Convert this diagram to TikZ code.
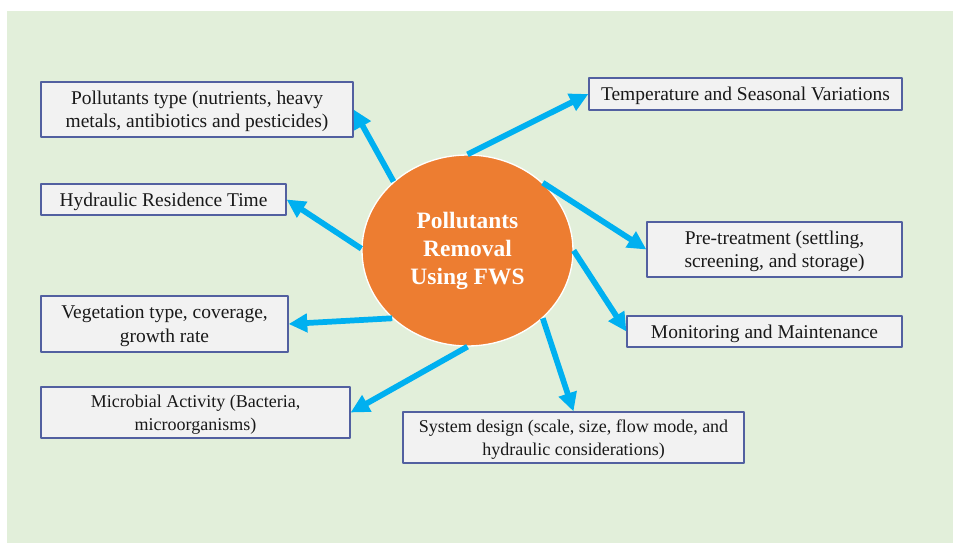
\documentclass[tikz,border=0pt]{standalone}
\usepackage{fontspec}
\setmainfont{Liberation Serif}
\usetikzlibrary{arrows.meta}
\usetikzlibrary{shapes.geometric}

\definecolor{bggreen}{HTML}{E2EFDA}
\definecolor{boxfill}{HTML}{F2F2F2}
\definecolor{boxline}{HTML}{5260A0}
\definecolor{arrowblue}{HTML}{00B0F0}
\definecolor{hubfill}{HTML}{ED7D31}

\tikzset{
  factor/.style={draw=boxline,fill=boxfill,line width=0.9pt,inner sep=0pt,align=center,
    text=black!90,text depth=0pt,font=\fontsize{14.6}{17.6}\selectfont},
  smallfactor/.style={factor,font=\fontsize{13.5}{17.2}\selectfont},
  hub/.style={ellipse,draw=white,fill=hubfill,line width=1pt,inner sep=0pt,align=center,
    text=white,font=\fontsize{17.6}{21}\selectfont\bfseries},
  link/.style={arrowblue,line width=4.3pt,-{Triangle[length=14pt,width=13.5pt]}},
}

\begin{document}
\begin{tikzpicture}[x=0.75pt,y=-0.75pt,line join=bevel,]
%%
\fill [white] (0,0) rectangle (953,543);
\fill [bggreen] (7,11) rectangle (953,543);
\useasboundingbox (0,0) rectangle (953,543);
%
\node (node_fws) at (467.5,250.5) [hub,minimum width=158.25pt,minimum height=143.25pt] {Pollutants\\Removal\\Using FWS};
  \node (node_pollutants) at (197,109.5) [factor,minimum width=234pt,minimum height=41.25pt] {Pollutants type (nutrients, heavy\\metals, antibiotics and pesticides)};
  \node (node_hrt) at (163.5,199.5) [factor,minimum width=183.75pt,minimum height=23.25pt] {Hydraulic Residence Time};
  \node (node_vegetation) at (164.5,324) [factor,minimum width=185.25pt,minimum height=42pt] {Vegetation type, coverage,\\growth rate};
  \node (node_microbial) at (195.5,412.5) [smallfactor,minimum width=231.75pt,minimum height=38.25pt] {Microbial Activity (Bacteria,\\microorganisms)};
  \node (node_design) at (573.5,437.5) [smallfactor,minimum width=255.75pt,minimum height=38.25pt] {System design (scale, size, flow mode, and\\hydraulic considerations)};
  \node (node_temperature) at (745.5,94) [factor,minimum width=234.75pt,minimum height=24pt] {Temperature and Seasonal Variations};
  \node (node_pretreatment) at (774.5,249.5) [factor,minimum width=191.25pt,minimum height=41.25pt] {Pre-treatment (settling,\\screening, and storage)};
  \node (node_monitoring) at (764.5,331.5) [factor,minimum width=206.25pt,minimum height=23.25pt] {Monitoring and Maintenance};
  \draw [link] (node_fws.137) -- (node_pollutants.east);
  \draw [link] (node_fws.179) -- (node_hrt.east);
  \draw [link] (node_fws.222) -- (node_vegetation.east);
  \draw [link] (node_fws.270) -- (node_microbial.east);
  \draw [link] (node_fws.318) -- (node_design.north);
  \draw [link] (node_fws.90) -- (node_temperature.west);
  \draw [link] (node_fws.42) -- (node_pretreatment.west);
  \draw [link] (node_fws.0) -- (node_monitoring.west);
%
\end{tikzpicture}
\end{document}
